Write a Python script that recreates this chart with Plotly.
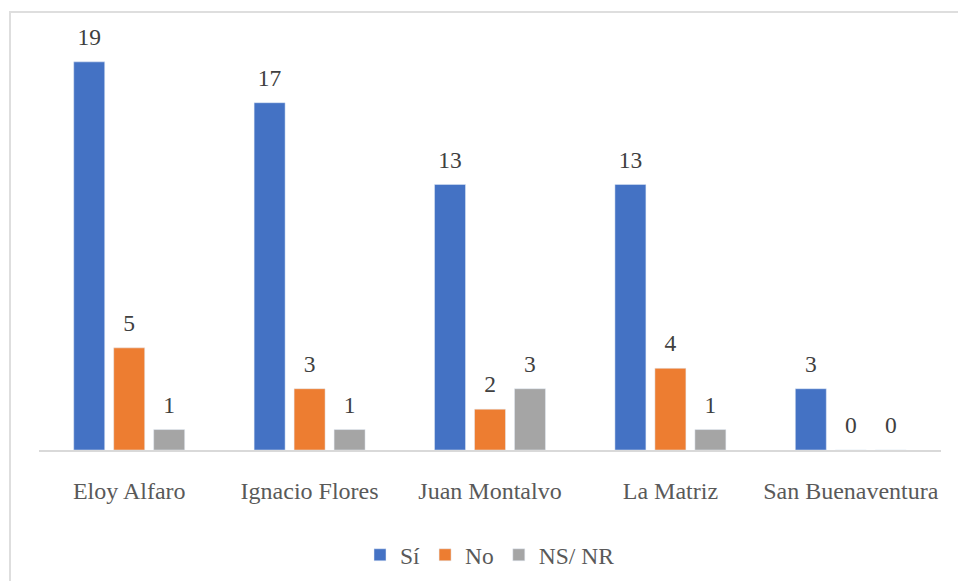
import plotly.graph_objects as go

# Survey responses per parish
categories = ["Eloy Alfaro", "Ignacio Flores", "Juan Montalvo", "La Matriz", "San Buenaventura"]
si_values = [19, 17, 13, 13, 3]
no_values = [5, 3, 2, 4, 0]
nsnr_values = [1, 1, 3, 1, 0]
series_names = ["Sí", "No", "NS/ NR"]
series_colors = ["#4472C4", "#ED7D31", "#A5A5A5"]

W, H = 958, 581
M_L, M_R, M_T, M_B = 39, 17, 21, 131
SERIF = "Liberation Serif, Times New Roman, serif"

fig = go.Figure()
series_values = [si_values, no_values, nsnr_values]

for name, vals, color in zip(series_names, series_values, series_colors):
    fig.add_trace(go.Bar(
        x=categories, y=vals, name=name, marker_color=color,
        offsetgroup=name, alignmentgroup="g",
    ))

# value labels placed above each bar
for name, vals in zip(series_names, series_values):
    fig.add_trace(go.Scatter(
        x=categories, y=vals, mode="markers+text",
        text=[str(v) for v in vals], textposition="top center",
        textfont=dict(family=SERIF, size=23.5, color="#404040"),
        marker=dict(size=16, color="rgba(0,0,0,0)"),
        offsetgroup=name, alignmentgroup="s",
        showlegend=False, hoverinfo="skip", cliponaxis=False,
    ))

plot_h = H - M_T - M_B
plot_w = W - M_L - M_R

fig.update_layout(
    width=W, height=H,
    margin=dict(l=M_L, r=M_R, t=M_T, b=M_B, autoexpand=False),
    paper_bgcolor="white", plot_bgcolor="white",
    barmode="group", bargap=0.335, bargroupgap=0.225,
    scattermode="group", scattergap=0.335,
    showlegend=True,
    legend=dict(
        orientation="h", x=0.5, xanchor="center",
        y=(450 - 555) / plot_h, yanchor="middle",
        font=dict(family=SERIF, size=23.5, color="#595959"),
        itemwidth=30, traceorder="normal",
    ),
    xaxis=dict(
        showgrid=False, showline=True, linecolor="#d9d9d9", linewidth=1.5,
        ticks="", tickfont=dict(family=SERIF, size=24, color="#595959"),
        ticklabelstandoff=18, automargin=False,
    ),
    yaxis=dict(range=[0, 21], visible=False, showgrid=False, automargin=False),
    shapes=[dict(
        type="rect", xref="paper", yref="paper",
        x0=(10 - M_L) / plot_w, x1=1.2,
        y0=-0.6, y1=(450 - 12) / plot_h,
        line=dict(color="#dedede", width=2), layer="below",
    )],
)

fig.write_html("out.html")
